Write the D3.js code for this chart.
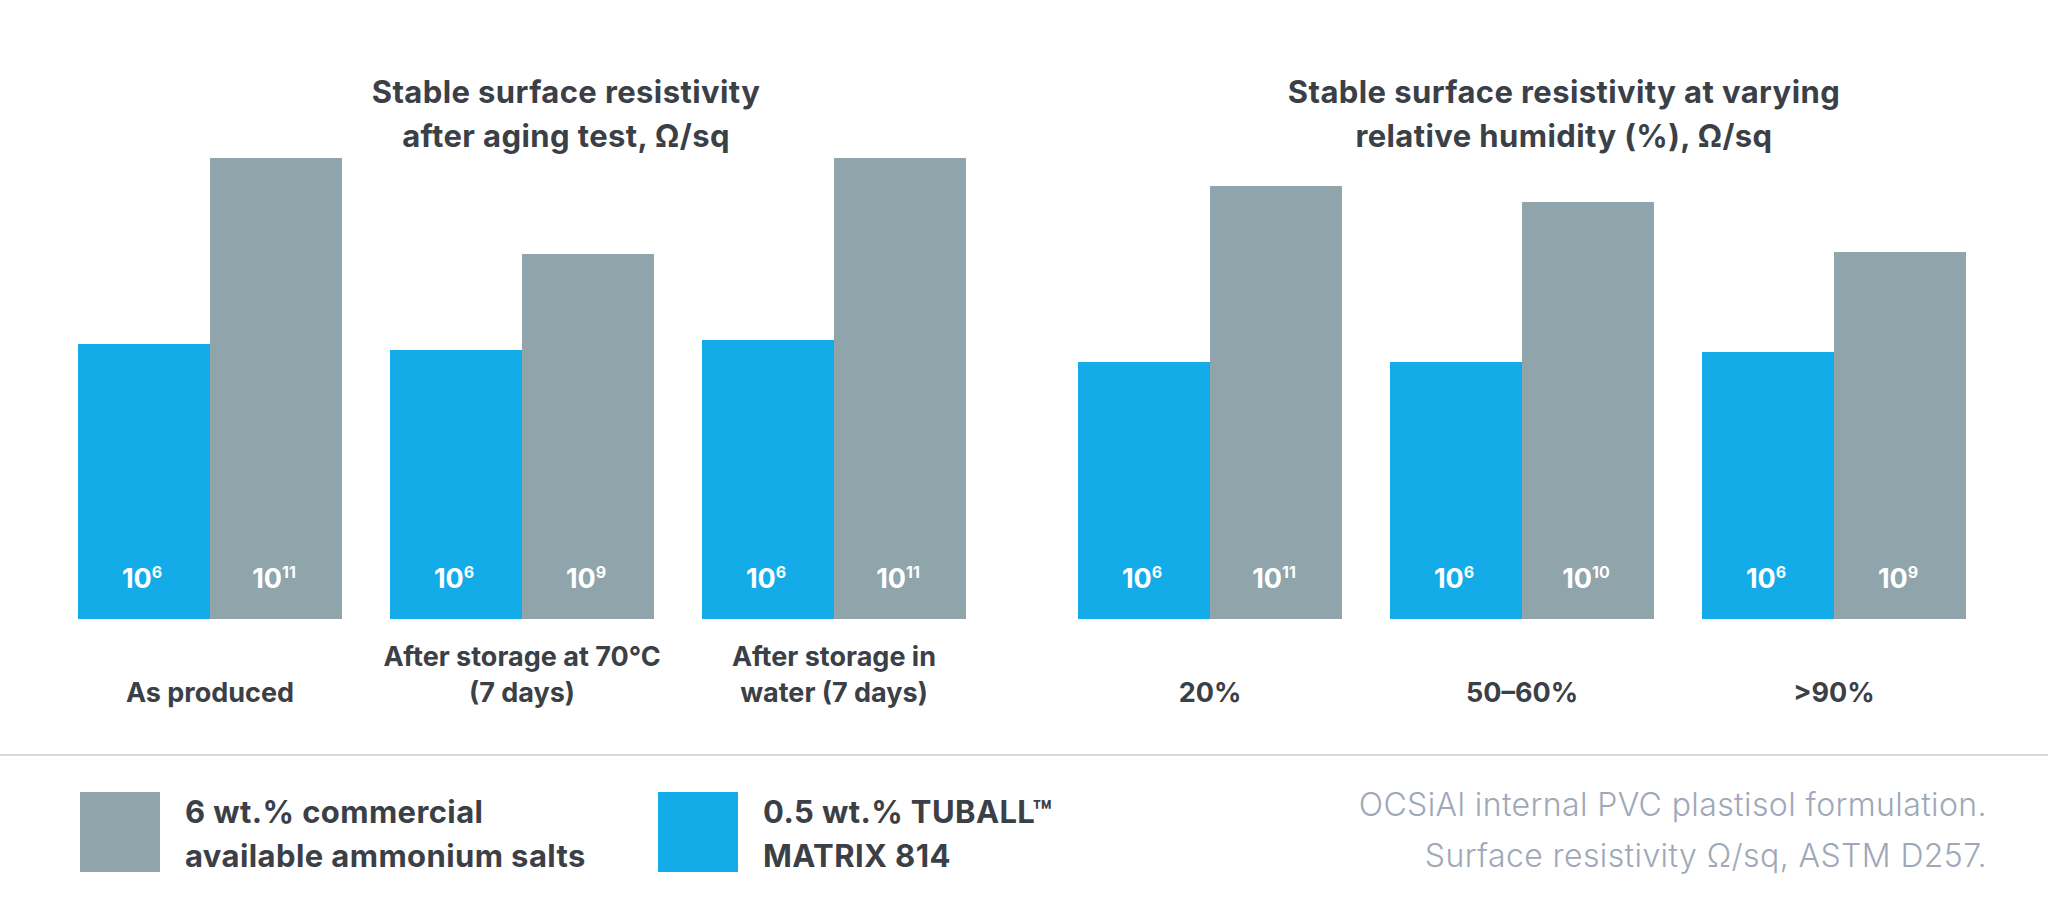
<!DOCTYPE html>
<html>
<head>
<meta charset="utf-8">
<script src="https://cdn.jsdelivr.net/npm/d3@7"></script>
<style>
  html, body { margin: 0; padding: 0; background: #ffffff; }
  svg { display: block; }
</style>
</head>
<body>
<svg id="chart" width="2048" height="920"></svg>
<script>
// ---------- DATA ----------
const seriesKeys = ["tuball", "salts"];
const seriesNames = {
  salts: ["6 wt.% commercial", "available ammonium salts"],
  tuball: ["0.5 wt.% TUBALL™", "MATRIX 814"]
};

const leftTitle = ["Stable surface resistivity", "after aging test, Ω/sq"];
const leftCategories = [["As produced"], ["After storage at 70°C", "(7 days)"], ["After storage in", "water (7 days)"]];
const leftTuballExp = [6, 6, 6];
const leftSaltsExp = [11, 9, 11];
const leftTuballBar = [6.57, 6.42, 6.65];
const leftSaltsBar = [11.0, 8.71, 11.0];

const rightTitle = ["Stable surface resistivity at varying", "relative humidity (%), Ω/sq"];
const rightCategories = [["20%"], ["50–60%"], [">90%"]];
const rightTuballExp = [6, 6, 6];
const rightSaltsExp = [11, 10, 9];
const rightTuballBar = [6.14, 6.14, 6.38];
const rightSaltsBar = [10.33, 9.95, 8.76];

const footnote = ["OCSiAl internal PVC plastisol formulation.", "Surface resistivity Ω/sq, ASTM D257."];

// ---------- STYLE ----------
const colors = { tuball: "#14ace8", salts: "#90a4ac" };
const textDark = "#3b4047";
const boldFont = "Inter, 'Open Sans', sans-serif";
const lightFont = "Inter, Roboto, sans-serif";

const svg = d3.select("#chart");
svg.append("rect").attr("width", 2048).attr("height", 920).attr("fill", "#fff");

const y = d3.scaleLinear().domain([0, 11]).range([619, 158]);

function buildTable(cats, tExp, sExp, tBar, sBar) {
  return cats.map((c, i) => ({
    idx: i, label: c,
    values: [
      { key: "tuball", exp: tExp[i], v: tBar[i] },
      { key: "salts", exp: sExp[i], v: sBar[i] }
    ]
  }));
}

function drawPanel(table, title, range, titleX) {
  const g = svg.append("g");
  const x0 = d3.scaleBand().domain(table.map(d => d.idx)).range(range).paddingInner(48 / 312).paddingOuter(0);
  const x1 = d3.scaleBand().domain(seriesKeys).range([0, x0.bandwidth()]).padding(0);

  // title
  const t = g.append("text")
    .attr("text-anchor", "middle")
    .attr("font-family", boldFont).attr("font-weight", 700)
    .attr("font-size", 31).attr("letter-spacing", 0.4).attr("fill", textDark);
  title.forEach((line, i) => {
    t.append("tspan").attr("x", titleX).attr("y", 103 + i * 44).text(line);
  });

  const groups = g.selectAll("g.grp").data(table).join("g")
    .attr("class", "grp")
    .attr("transform", d => `translate(${x0(d.idx)},0)`);

  groups.selectAll("rect").data(d => d.values).join("rect")
    .attr("x", d => x1(d.key))
    .attr("width", x1.bandwidth())
    .attr("y", d => y(d.v))
    .attr("height", d => y(0) - y(d.v))
    .attr("fill", d => colors[d.key])
    .attr("shape-rendering", "crispEdges");

  // value labels 10^n
  groups.selectAll("text.val").data(d => d.values).join("text")
    .attr("class", "val")
    .attr("x", d => x1(d.key) + x1.bandwidth() / 2 - 2)
    .attr("y", 588)
    .attr("text-anchor", "middle")
    .attr("font-family", boldFont).attr("font-weight", 700)
    .attr("font-size", 27).attr("fill", "#ffffff")
    .each(function(d) {
      const s = d3.select(this);
      s.append("tspan").text("10");
      s.append("tspan").attr("font-size", 16).attr("dy", -10).text(d.exp);
    });

  // category labels
  groups.append("text")
    .attr("text-anchor", "middle")
    .attr("font-family", boldFont).attr("font-weight", 700)
    .attr("font-size", 27).attr("fill", textDark)
    .each(function(d) {
      const s = d3.select(this);
      const n = d.label.length;
      d.label.forEach((line, i) => {
        s.append("tspan")
          .attr("x", x0.bandwidth() / 2)
          .attr("y", 702 - (n - 1 - i) * 36)
          .text(line);
      });
    });
}

drawPanel(buildTable(leftCategories, leftTuballExp, leftSaltsExp, leftTuballBar, leftSaltsBar), leftTitle, [78, 966], 566);
drawPanel(buildTable(rightCategories, rightTuballExp, rightSaltsExp, rightTuballBar, rightSaltsBar), rightTitle, [1078, 1966], 1564);

// separator
svg.append("line").attr("x1", 0).attr("x2", 2048).attr("y1", 755).attr("y2", 755)
  .attr("stroke", "#d5dadd").attr("stroke-width", 2);

// legend
const legendItems = [
  { key: "salts", x: 80 },
  { key: "tuball", x: 658 }
];
const lg = svg.append("g").selectAll("g").data(legendItems).join("g")
  .attr("transform", d => `translate(${d.x},792)`);
lg.append("rect").attr("width", 80).attr("height", 80).attr("fill", d => colors[d.key]);
lg.append("text")
  .attr("font-family", boldFont).attr("font-weight", 700)
  .attr("font-size", 31).attr("letter-spacing", 0.4).attr("fill", textDark)
  .each(function(d) {
    const s = d3.select(this);
    seriesNames[d.key].forEach((line, i) => {
      s.append("tspan").attr("x", 105).attr("y", 31 + i * 44).text(line);
    });
  });

// footnote
const fn = svg.append("text")
  .attr("text-anchor", "end")
  .attr("font-family", lightFont).attr("font-weight", 300)
  .attr("font-size", 32).attr("letter-spacing", 0.4).attr("fill", "#9ea8b8");
footnote.forEach((line, i) => {
  fn.append("tspan").attr("x", 1987).attr("y", 816 + i * 51).text(line);
});
</script>
</body>
</html>
